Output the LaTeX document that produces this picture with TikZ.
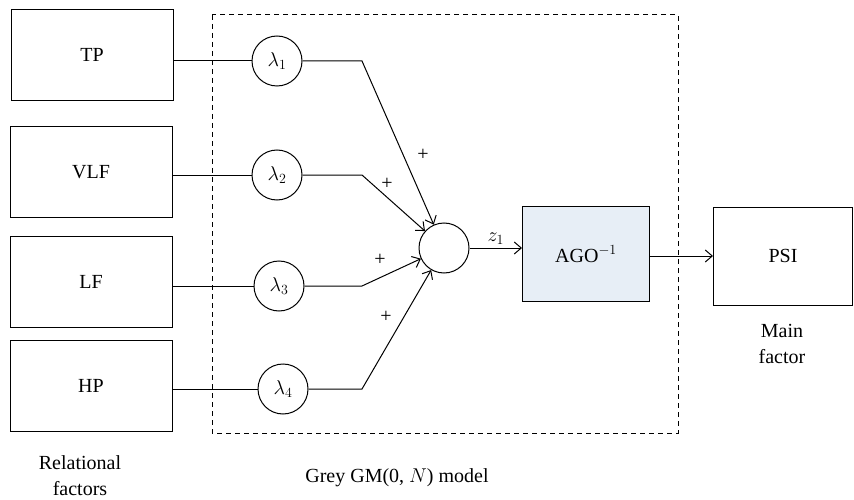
\RequirePackage{fix-cm}
\documentclass[tikz,border=0pt]{standalone}
\usepackage{amsmath}
\usepackage{fontspec}
\setmainfont{Liberation Serif}
\usetikzlibrary{shapes,arrows,arrows.meta}
\definecolor{agofill}{RGB}{231,238,246}
\tikzstyle{block} = [rectangle, draw, line width=1pt, text centered,
    minimum width=162pt, minimum height=91pt]
\tikzstyle{weight} = [circle, draw, line width=1pt, inner sep=0pt,
    minimum size=50pt]
\tikzstyle{line} = [draw, line width=1pt]
\tikzstyle{arrowline} = [draw, line width=1pt,
    -{Straight Barb[length=7pt,width=12pt]}]
\tikzstyle{caption} = [align=center]

\begin{document}
\begin{tikzpicture}[x=1pt, y=-1pt, auto, font=\fontsize{20}{26}\selectfont]
    \useasboundingbox (0,0) rectangle (854,500);
    % grey model frame
    \draw [line width=1pt, dash pattern=on 5pt off 4pt] (212,15) rectangle (678,433);
    % relational factors
    \node [block] (tp) at (92,55) {TP};
    \node [block] (vlf) at (91,172) {VLF};
    \node [block] (lf) at (91,282) {LF};
    \node [block] (hp) at (91,386) {HP};
    % weights
    \node [weight] (w1) at (277,61) {$\lambda_1$};
    \node [weight] (w2) at (277,175) {$\lambda_2$};
    \node [weight] (w3) at (279,286) {$\lambda_3$};
    \node [weight] (w4) at (283,389) {$\lambda_4$};
    \coordinate (b1) at (362,61);
    \coordinate (b2) at (362,175);
    \coordinate (b3) at (362,286);
    \coordinate (b4) at (362,389);
    \node [weight] (sum) at (444,248) {};
    \node [block, fill=agofill, minimum width=127pt, minimum height=95pt] (ago) at (586,254) {AGO$^{-1}$};
    \node [block, minimum width=139pt, minimum height=98pt] (psi) at (783,256) {PSI};
    % inputs
    \path [line] (tp.east |- w1) -- (w1);
    \path [line] (vlf.east |- w2) -- (w2);
    \path [line] (lf.east |- w3) -- (w3);
    \path [line] (hp.east |- w4) -- (w4);
    \path [arrowline] (w1) -- (b1) -- (sum);
    \path [arrowline] (w2) -- (b2) -- (sum);
    \path [arrowline] (w3) -- (b3) -- (sum);
    \path [arrowline] (w4) -- (b4) -- (sum);
    \node (p1) at (423,155) {+};
    \node (p2) at (387,184) {+};
    \node (p3) at (380,260) {+};
    \node (p4) at (386,317) {+};
    % output
    \path [arrowline] (sum.east) -- node {$z_1$} (sum.east -| ago.west);
    \path [arrowline] (ago.east |- psi.west) -- (psi.west);
    % captions
    \node [caption] (rel) at (80,476) {Relational\\factors};
    \node [caption] (grey) at (397,478) {Grey GM(0, $N$) model};
    \node [caption] (main) at (782,344) {Main\\factor};
\end{tikzpicture}
\end{document}
